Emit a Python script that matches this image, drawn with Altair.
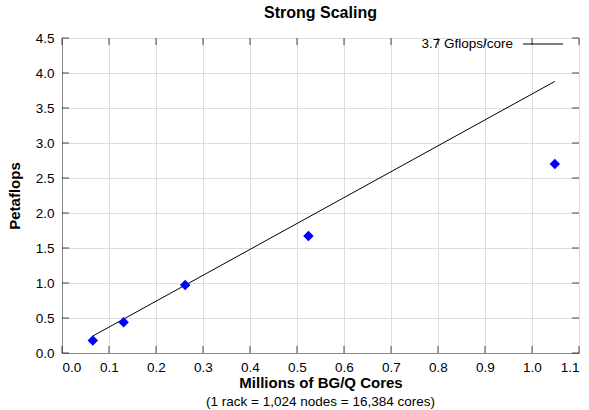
import altair as alt
import pandas as pd

# Data
cores_millions = [0.065536, 0.131072, 0.262144, 0.524288, 1.048576]
petaflops = [0.18, 0.44, 0.97, 1.67, 2.70]
ideal_rate = 3.7  # Gflops/core -> petaflops per million cores
ideal_x = [0.065536, 1.048576]
ideal_y = [ideal_rate * v for v in ideal_x]
x_ticks = [0.0, 0.1, 0.2, 0.3, 0.4, 0.5, 0.6, 0.7, 0.8, 0.9, 1.0, 1.1]
y_ticks = [0.0, 0.5, 1.0, 1.5, 2.0, 2.5, 3.0, 3.5, 4.0, 4.5]
legend_label = ["3.7 Gflops/core"]
subtitle = ["(1 rack = 1,024 nodes = 16,384 cores)"]

W, H = 517, 315
FONT = "Liberation Sans"

pts = pd.DataFrame({"x": cores_millions, "y": petaflops})
line_df = pd.DataFrame({"x": ideal_x, "y": ideal_y})
xt = pd.DataFrame({"x": x_ticks})
yt = pd.DataFrame({"y": y_ticks})

xscale = alt.Scale(domain=[0, 1.1], nice=False, zero=False)
yscale = alt.Scale(domain=[0, 4.5], nice=False, zero=False)

xaxis = alt.Axis(values=x_ticks, format=".1f",
                 title="Millions of BG/Q Cores", titleFontWeight="bold",
                 titleFontSize=15, titlePadding=2, labelFontSize=13.5,
                 labelPadding=7, tickSize=0, grid=True)
yaxis = alt.Axis(values=y_ticks, format=".1f",
                 title="Petaflops", titleFontWeight="bold", titleFontSize=15,
                 titlePadding=13, labelFontSize=13.5, labelPadding=8,
                 tickSize=0, grid=True)

X = alt.X("x:Q", scale=xscale, axis=xaxis)
Y = alt.Y("y:Q", scale=yscale, axis=yaxis)

line = alt.Chart(line_df).mark_line(color="black", strokeWidth=1).encode(x=X, y=Y)

points = alt.Chart(pts).mark_point(shape="diamond", filled=True,
                                   color="#0000ff", size=110, opacity=1).encode(x=X, y=Y)

# gnuplot-style inward ticks on all four borders
tick_bot = alt.Chart(xt).mark_tick(color="black", size=7, thickness=1,
                                   orient="vertical").encode(x=X, y=alt.value(H - 3.5))
tick_top = alt.Chart(xt).mark_tick(color="black", size=7, thickness=1,
                                   orient="vertical").encode(x=X, y=alt.value(3.5))
tick_left = alt.Chart(yt).mark_tick(color="black", size=7, thickness=1,
                                    orient="horizontal").encode(y=Y, x=alt.value(3.5))
tick_right = alt.Chart(yt).mark_tick(color="black", size=7, thickness=1,
                                     orient="horizontal").encode(y=Y, x=alt.value(W - 3.5))

leg_text = alt.Chart(pd.DataFrame({"t": legend_label})).mark_text(
    align="right", baseline="middle", fontSize=13.5, font=FONT, color="black"
).encode(text="t:N", x=alt.value(W - 66), y=alt.value(6))

leg_line = alt.Chart(pd.DataFrame({"t": legend_label})).mark_rule(
    color="black", strokeWidth=1
).encode(x=alt.value(W - 56), x2=alt.value(W - 16), y=alt.value(6))

sub = alt.Chart(pd.DataFrame({"t": subtitle})).mark_text(
    align="center", baseline="middle", fontSize=13.5, font=FONT, color="black"
).encode(text="t:N", x=alt.value(W / 2), y=alt.value(H + 49))

chart = alt.layer(line, tick_bot, tick_top, tick_left, tick_right, points,
                  leg_text, leg_line, sub).properties(
    width=W, height=H,
    title=alt.TitleParams("Strong Scaling", fontSize=16, fontWeight="bold",
                          font=FONT, anchor="middle", offset=10, color="black"),
    autosize=alt.AutoSizeParams(type="none"),
    padding={"left": 62, "top": 38, "right": 10, "bottom": 57},
).configure_view(
    stroke="black", strokeWidth=1.5
).configure_axis(
    labelFont=FONT, titleFont=FONT, labelColor="black", titleColor="black",
    domain=False, gridColor="#777777", gridDash=[1, 1.5], gridWidth=1,
    gridOpacity=1
).configure(background="white")

chart.save("out.html", embed_options={"renderer": "svg", "actions": False})
